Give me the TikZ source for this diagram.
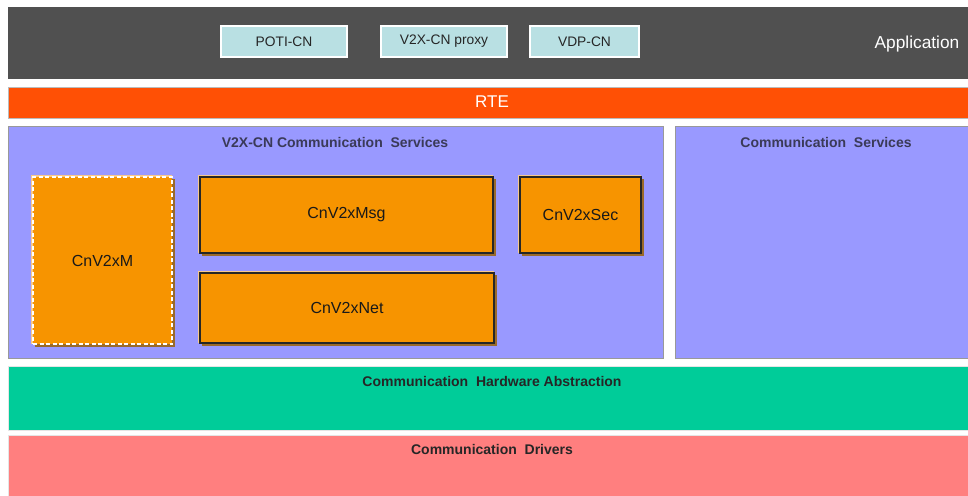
\documentclass[tikz,border=0pt]{standalone}
\usepackage{fontspec}
\setmainfont{Liberation Sans}
\definecolor{appbg}{HTML}{505050}
\definecolor{appbox}{HTML}{B9E0E3}
\definecolor{rte}{HTML}{FF5005}
\definecolor{svc}{HTML}{9999FF}
\definecolor{modfill}{HTML}{F79400}
\definecolor{modshadow}{HTML}{9A6A2A}
\definecolor{modhalo}{HTML}{F8C88A}
\definecolor{cha}{HTML}{00CC99}
\definecolor{drv}{HTML}{FF7F7F}
\definecolor{titletext}{HTML}{3A3A58}
\definecolor{bandborder}{HTML}{BBBBBB}
\tikzset{
  band/.style={draw=bandborder, line width=0.8pt, inner sep=0pt},
  appmod/.style={draw=white, line width=1.5pt, fill=appbox, inner sep=0pt, font=\fontsize{13.8}{16}\selectfont, text=black!85},
  mod/.style={draw=black!85, line width=2pt, fill=modfill, inner sep=0pt, font=\fontsize{16}{18}\selectfont, text=black!90},
  dmod/.style={draw=white, line width=1.5pt, dash pattern=on 4pt off 2.5pt, fill=modfill, inner sep=0pt, font=\fontsize{16}{18}\selectfont, text=black!90},
  ttl/.style={font=\bfseries\fontsize{14}{16}\selectfont, text=titletext, inner sep=0pt},
  ttldark/.style={font=\bfseries\fontsize{14}{16}\selectfont, text=black!85, inner sep=0pt},
}
\begin{document}
\begin{tikzpicture}[x=1pt,y=-1pt]
\useasboundingbox (0,0) rectangle (968,495);
% bands
\fill[appbg] (8,7) rectangle (968,79);
\node[text=white, font=\fontsize{17.3}{20}\selectfont, inner sep=0pt] (app) at (917,44) {Application};
\node[appmod, minimum width=126pt, minimum height=31pt] (poti) at (284,41.5) {POTI-CN};
\node[appmod, minimum width=126pt, minimum height=31pt] (proxy) at (444,41.5) {V2X-CN proxy};
\node[appmod, minimum width=109pt, minimum height=31pt] (vdp) at (584.5,41.5) {VDP-CN};

\filldraw[band, fill=rte] (8,87) rectangle (968,118);
\node[text=white, font=\fontsize{17}{20}\selectfont, inner sep=0pt] (rtetxt) at (492,102) {RTE};

\filldraw[band, fill=svc, draw=black!40] (8,126) rectangle (663,358);
\node[ttl] (v2xsvc) at (335,142) {V2X-CN Communication\ \ Services};
\filldraw[band, fill=svc, draw=black!40] (675,126) rectangle (968,358);
\node[ttl] (comsvc) at (826,142) {Communication\ \ Services};

\filldraw[band, fill=cha, draw=black!10] (8,366) rectangle (968,430);
\node[ttldark] (chatxt) at (492,381) {Communication\ \ Hardware Abstraction};
\filldraw[band, fill=drv, draw=black!10] (8,435) rectangle (968,497);
\node[ttldark] (drvtxt) at (492,449) {Communication\ \ Drivers};

% halos and shadows
\fill[modhalo] (31,175) rectangle (172,344);
\fill[modhalo] (198,175) rectangle (493,253);
\fill[modhalo] (518,175) rectangle (641,253);
\fill[modhalo] (198,271) rectangle (494,343);
\fill[modshadow] (35,179) rectangle (175,347);
\fill[modshadow] (202,179) rectangle (496,256);
\fill[modshadow] (522,179) rectangle (644,256);
\fill[modshadow] (202,275) rectangle (497,346);
% modules
\node[dmod, minimum width=139pt, minimum height=167pt] (m) at (102.5,260.5) {CnV2xM};
\node[mod, minimum width=293pt, minimum height=76pt] (msg) at (346.5,215) {CnV2xMsg};
\node[mod, minimum width=121pt, minimum height=76pt] (sec) at (580.5,215) {CnV2xSec};
\node[mod, minimum width=294pt, minimum height=70pt] (net) at (347,308) {CnV2xNet};
\end{tikzpicture}
\end{document}
